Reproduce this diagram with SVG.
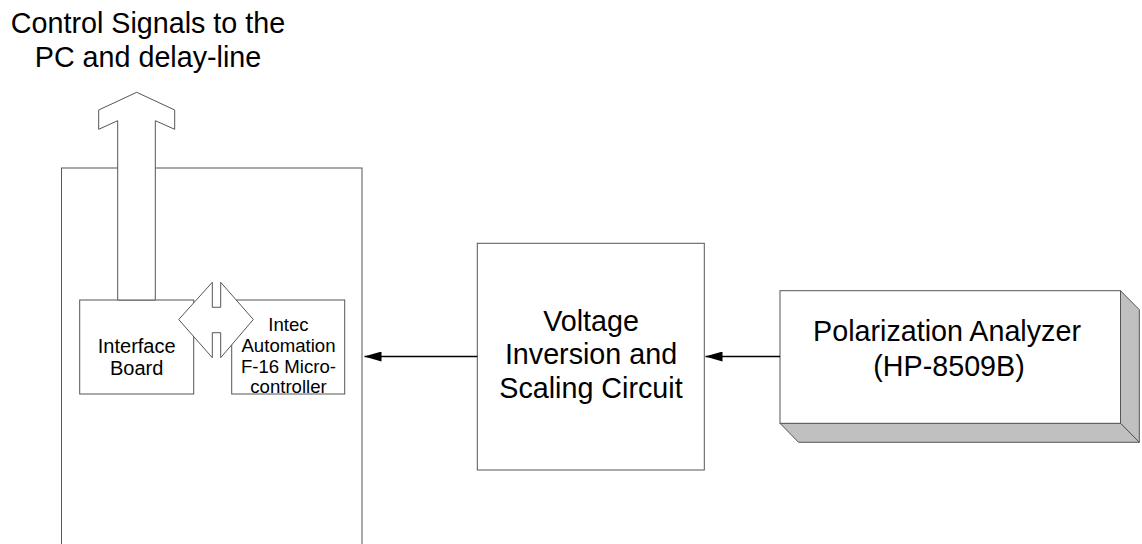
<svg xmlns="http://www.w3.org/2000/svg" width="1142" height="544" viewBox="0 0 1142 544">
<style>
.box{fill:#fff;stroke:#555;stroke-width:1}
.shade{fill:#c0c0c0;stroke:#555;stroke-width:1}
.t{font-family:"Liberation Sans",Arial,sans-serif;fill:#000;text-anchor:middle}
.conn{stroke:#000;stroke-width:1.5;fill:none}
</style>
<defs>
<marker id="ah" viewBox="0 0 17 10" refX="17" refY="5" markerWidth="17" markerHeight="10" markerUnits="userSpaceOnUse" orient="auto">
<path d="M0,0 L17,5 L0,10 Z" fill="#000"/>
</marker>
</defs>
<text class="t" x="148" y="33" font-size="28.7">Control Signals to the</text>
<text class="t" x="148" y="66.5" font-size="28.7">PC and delay-line</text>
<g id="controller-enclosure">
<rect class="box" x="61.5" y="168" width="300.5" height="400"/>
</g>
<g id="interface-board">
<rect class="box" x="79.7" y="300" width="114" height="94"/>
<text class="t" x="136.7" y="353" font-size="20">Interface</text>
<text class="t" x="136.7" y="375" font-size="20">Board</text>
</g>
<g id="microcontroller">
<rect class="box" x="231.7" y="300" width="113" height="94"/>
<text class="t" x="288.5" y="330.5" font-size="18.6">Intec</text>
<text class="t" x="288.5" y="351.5" font-size="18.6">Automation</text>
<text class="t" x="288.5" y="372.5" font-size="18.6">F-16 Micro-</text>
<text class="t" x="288.5" y="393" font-size="18.6">controller</text>
</g>
<g id="voltage-circuit">
<rect class="box" x="477.3" y="243.3" width="227" height="226.7"/>
<text class="t" x="591" y="330.5" font-size="28.7">Voltage</text>
<text class="t" x="591" y="364" font-size="28.7">Inversion and</text>
<text class="t" x="591" y="397.5" font-size="28.7">Scaling Circuit</text>
</g>
<g id="polarization-analyzer">
<polygon class="shade" points="1120.5,290.7 1139.3,309.7 1139.3,442.3 1120.5,423.3"/>
<polygon class="shade" points="780,423.3 1120.5,423.3 1139.3,442.3 798.5,442.3"/>
<rect class="box" x="780" y="290.7" width="340.5" height="132.6"/>
<text class="t" x="947" y="340.7" font-size="28.7">Polarization Analyzer</text>
<text class="t" x="949" y="376" font-size="28.7">(HP-8509B)</text>
</g>
<g id="connectors">
<polygon class="box" points="117.7,300 117.7,120.7 98.7,129.3 98.7,110 136.7,92.3 174.7,110 174.7,129.3 155.3,120.7 155.3,300"/>
<polygon class="box" points="178.7,319.5 212.3,282.3 212.3,307.3 220.7,307.3 220.7,282.3 253.3,319.5 220.7,357.7 220.7,332.7 212.3,332.7 212.3,357.7"/>
<line class="conn" x1="477.3" y1="356.5" x2="364.5" y2="356.5" marker-end="url(#ah)"/>
<line class="conn" x1="780" y1="356.5" x2="705.5" y2="356.5" marker-end="url(#ah)"/>
</g>
</svg>
